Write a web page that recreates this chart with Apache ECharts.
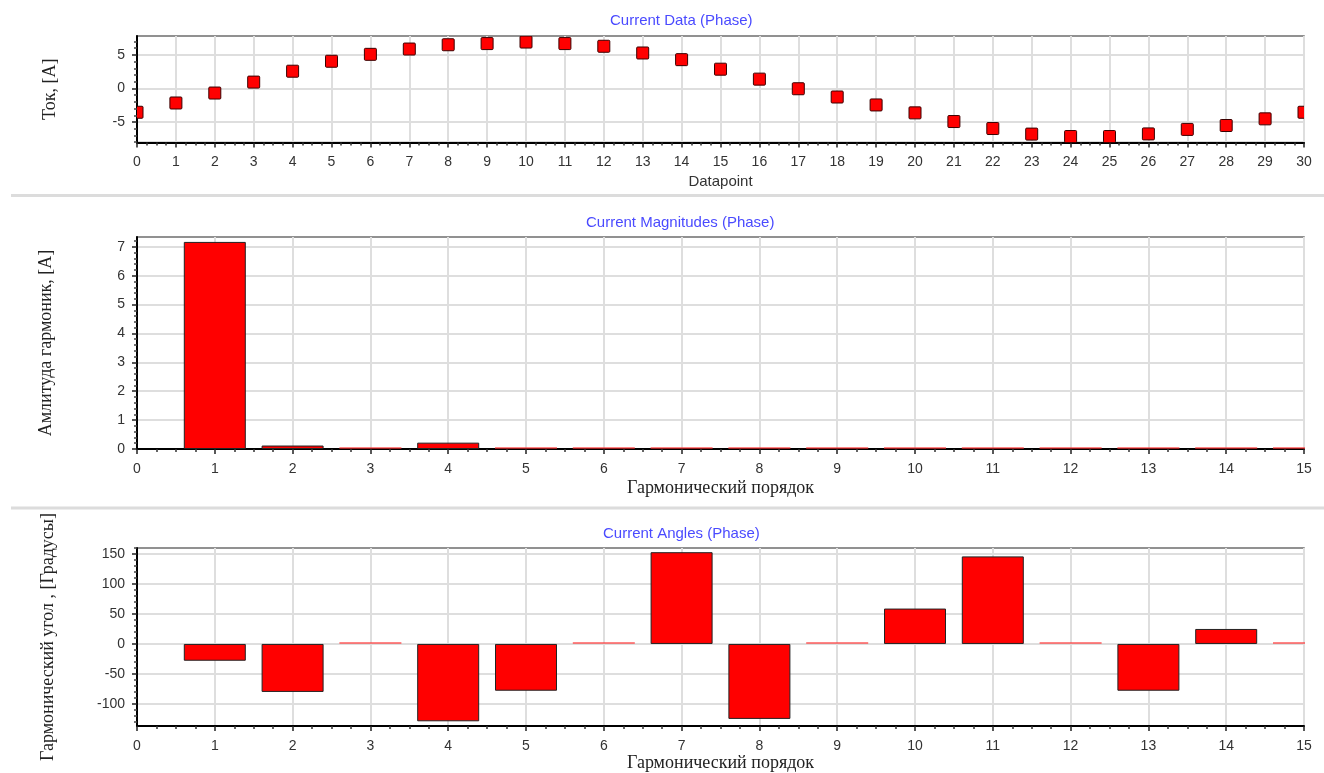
<!DOCTYPE html>
<html>
<head>
<meta charset="utf-8">
<title>Current Data / Magnitudes / Angles (Phase)</title>
<script src="https://cdn.jsdelivr.net/npm/echarts@6/dist/echarts.min.js"></script>
<style>
  html, body { margin: 0; padding: 0; background: #fff; }
  #chart { width: 1324px; height: 773px; }
</style>
</head>
<body>
<div id="chart"></div>
<script>
// values
const currentData = [
  -3.55, -2.17, -0.69, 0.94, 2.56, 4.04, 5.07, 5.86, 6.5, 6.67,
  6.9, 6.67, 6.27, 5.27, 4.28, 2.86, 1.38, -0.05, -1.28, -2.46,
  -3.64, -4.93, -5.97, -6.8, -7.16, -7.16, -6.77, -6.1, -5.52, -4.53,
  -3.55
]
const harmonicOrders = [ 1, 2, 3, 4, 5, 6, 7, 8, 9, 10, 11, 12, 13, 14, 15 ]
const magnitudes = [ 7.17, 0.12, 0, 0.22, 0, 0, 0, 0, 0, 0, 0, 0, 0, 0, 0 ]
const angles = [ -28, -80, 0, -129, -78, 0, 153, -125, 0, 59, 146, 0, -78, 25, 0 ]

const currentTicks = [ -5, 0, 5 ]
const magnitudeTicks = [ 0, 1, 2, 3, 4, 5, 6, 7 ]
const angleTicks = [ -100, -50, 0, 50, 100, 150 ]

const SANS = 'Liberation Sans'
const SERIF = 'Liberation Serif'
const RED = '#ff0000'
const ZERO_RED = 'rgba(255, 50, 50, 0.6)'

// minor tick values between the major ones
const minorTicks = ( min, max, step, major ) => {
  const out = []
  for ( let v = Math.ceil( min / step ) * step; v <= max; v += step ) {
    const r = Math.round( v * 100 ) / 100
    if ( Math.abs( r / major - Math.round( r / major ) ) > 1e-6 ) {
      out.push( r )
    }
  }
  return out
}

const makeTitle = ( text, left, top ) => ( {
  text,
  left,
  top,
  textStyle : { color : '#4a4aff', fontFamily : SANS, fontSize : 15, fontWeight : 'normal' }
} )

const makeX = ( gridIndex, max, name, nameFont, nameGap ) => ( {
  type : 'value',
  gridIndex,
  min : 0,
  max,
  interval : 1,
  name,
  nameLocation : 'middle',
  nameGap,
  nameTextStyle : nameFont,
  axisLine : { onZero : false, lineStyle : { color : '#000', width : 2 }},
  axisTick : { length : 5, lineStyle : { color : '#222', width : 1.5 }},
  minorTick : { show : true, splitNumber : 4, length : 3, lineStyle : { color : '#333', width : 1.5 }},
  axisLabel : { color : '#333', fontFamily : SANS, fontSize : 14, margin : 13 },
  splitLine : { show : true, lineStyle : { color : '#dedede', width : 2 }}
} )

const makeY = ( gridIndex, min, max, ticks, name, nameGap ) => ( {
  type : 'value',
  gridIndex,
  position : 'left',
  min,
  max,
  name,
  nameLocation : 'middle',
  nameGap,
  nameTextStyle : { color : '#222', fontFamily : SERIF, fontSize : 18 },
  axisLine : { lineStyle : { color : '#000', width : 2 }},
  axisTick : { customValues : ticks, length : 5, lineStyle : { color : '#222', width : 1.5 }},
  axisLabel : { customValues : ticks, color : '#333', fontFamily : SANS, fontSize : 14, margin : 12 },
  splitLine : { show : true, lineStyle : { color : '#dedede', width : 2 }}
} )

const makeMinorY = ( gridIndex, min, max, ticks ) => ( {
  type : 'value',
  gridIndex,
  position : 'left',
  offset : 0,
  min,
  max,
  axisLine : { show : false },
  axisTick : { customValues : ticks, length : 3, lineStyle : { color : '#444', width : 1.5 }},
  axisLabel : { show : false },
  splitLine : { show : false }
} )

const barData = values => values.map( ( v, i ) => {
  if ( v === 0 ) {
    return { value : [ harmonicOrders[i], v ], itemStyle : { color : ZERO_RED, borderWidth : 0 }}
  }
  return [ harmonicOrders[i], v ]
} )

// square markers, clipped at the plot edge like the original
const renderSquare = ( params, api ) => {
  const p = api.coord( [ api.value( 0 ), api.value( 1 ) ] )
  return {
    type : 'rect',
    shape : { x : p[0] - 6, y : p[1] - 6, width : 12, height : 12, r : 1 },
    style : { fill : RED, stroke : '#3a0000', lineWidth : 1 }
  }
}

const serifName = { color : '#222', fontFamily : SERIF, fontSize : 18 }
const sansName = { color : '#333', fontFamily : SANS, fontSize : 15 }
const gridBox = { show : true, left : 137, right : 20, borderColor : '#6e6e6e', borderWidth : 1.5, backgroundColor : '#fff' }

const chart = echarts.init( document.getElementById( 'chart' ) )

chart.setOption( {
  animation : false,
  backgroundColor : '#fff',
  title : [
    makeTitle( 'Current Data (Phase)', 605, 8 ),
    makeTitle( 'Current Magnitudes (Phase)', 581, 210 ),
    makeTitle( 'Current Angles (Phase)', 598, 521 )
  ],
  grid : [
    { ...gridBox, top : 36, height : 106.5 },
    { ...gridBox, top : 237, height : 212 },
    { ...gridBox, top : 548, height : 179 }
  ],
  xAxis : [
    makeX( 0, 30, 'Datapoint', sansName, 32 ),
    makeX( 1, 15, 'Гармонический порядок', serifName, 30 ),
    makeX( 2, 15, 'Гармонический порядок', serifName, 27 )
  ],
  yAxis : [
    makeY( 0, -8.05, 7.8, currentTicks, 'Ток, [A]', 78 ),
    makeMinorY( 0, -8.05, 7.8, minorTicks( -8.05, 7.8, 1, 5 ) ),
    makeY( 1, 0, 7.34, magnitudeTicks, 'Амлитуда гармоник, [A]', 82 ),
    makeMinorY( 1, 0, 7.34, minorTicks( 0, 7.34, 0.2, 1 ) ),
    makeY( 2, -137, 160, angleTicks, 'Гармонический угол , [Градусы]', 80 ),
    makeMinorY( 2, -137, 160, minorTicks( -137, 160, 10, 50 ) )
  ],
  graphic : [
    { type : 'line', shape : { x1 : 11, y1 : 195.5, x2 : 1324, y2 : 195.5 }, style : { stroke : '#dcdcdc', lineWidth : 3 }},
    { type : 'line', shape : { x1 : 11, y1 : 508, x2 : 1324, y2 : 508 }, style : { stroke : '#dcdcdc', lineWidth : 3 }},
    // bars keep their width when clipped; hide what spills past the right edge
    { type : 'rect', z : 100, shape : { x : 1305, y : 230, width : 19, height : 230 }, style : { fill : '#fff' }},
    { type : 'rect', z : 100, shape : { x : 1305, y : 540, width : 19, height : 200 }, style : { fill : '#fff' }}
  ],
  series : [
    {
      name : 'Current Data',
      type : 'custom',
      xAxisIndex : 0,
      yAxisIndex : 0,
      clip : true,
      renderItem : renderSquare,
      encode : { x : 0, y : 1 },
      data : currentData.map( ( v, i ) => [ i, v ] )
    },
    {
      name : 'Current Magnitudes',
      type : 'bar',
      xAxisIndex : 1,
      yAxisIndex : 2,
      barWidth : 62,
      barMinHeight : 2,
      itemStyle : { color : RED, borderColor : '#222', borderWidth : 1 },
      data : barData( magnitudes )
    },
    {
      name : 'Current Angles',
      type : 'bar',
      xAxisIndex : 2,
      yAxisIndex : 4,
      barWidth : 62,
      barMinHeight : 2,
      itemStyle : { color : RED, borderColor : '#222', borderWidth : 1 },
      data : barData( angles )
    }
  ]
} )
</script>
</body>
</html>
